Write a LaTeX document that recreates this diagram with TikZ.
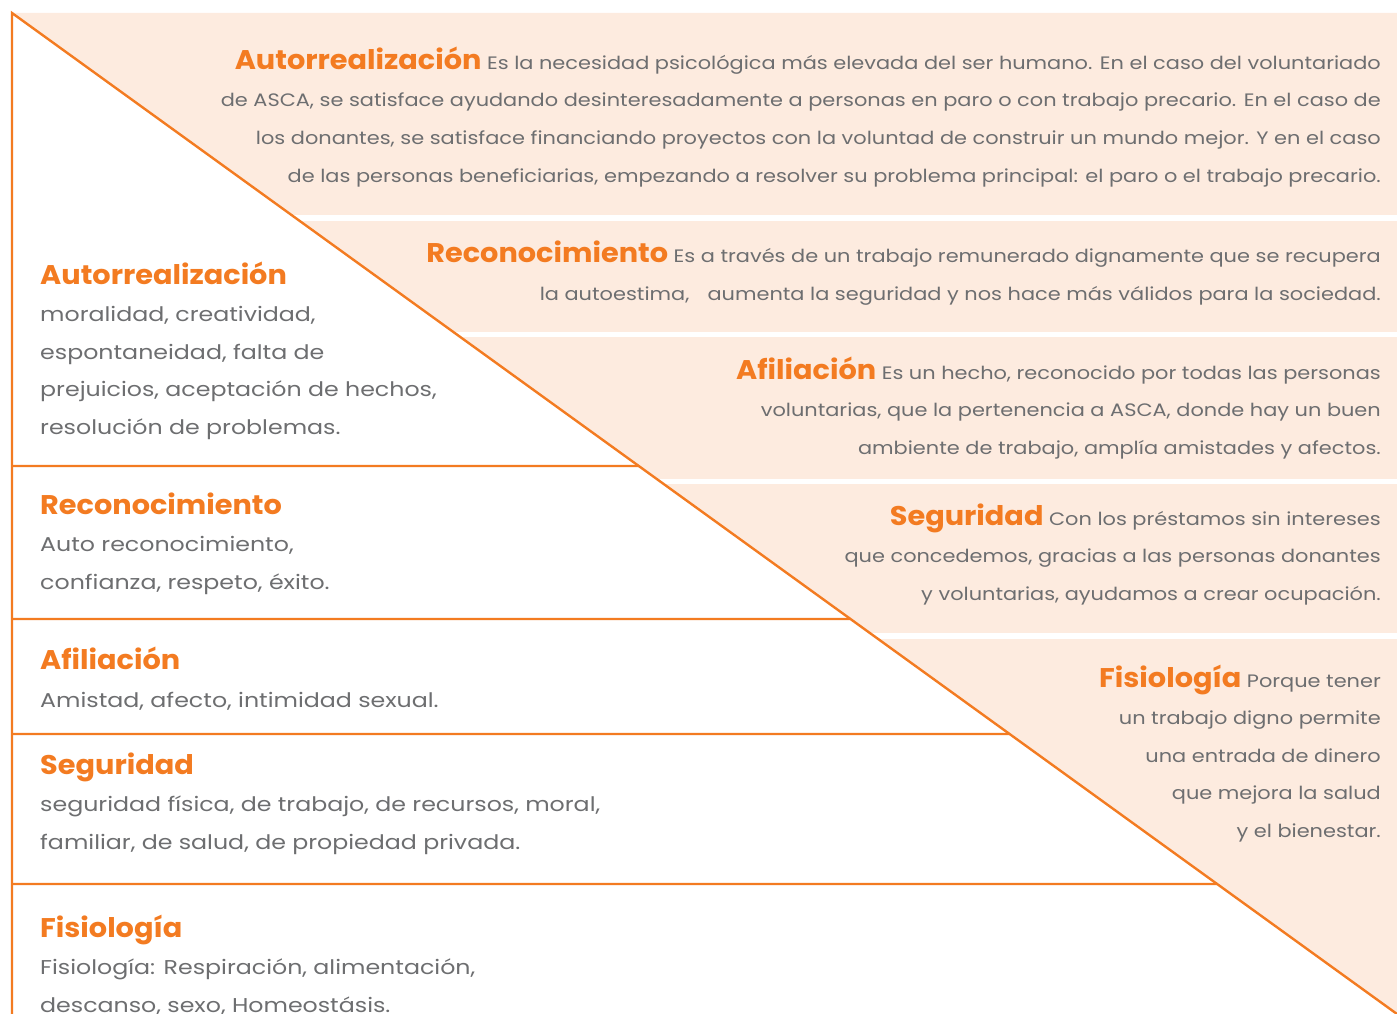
\documentclass[tikz,border=0pt]{standalone}
\usepackage{fontspec}
\setmainfont{Poppins}
\newfontfamily\fcuerpo[FakeStretch=1.16]{Poppins}
\newfontfamily\fizq[FakeStretch=1.185]{Poppins}
\newfontfamily\ftitulo[FakeStretch=1.065]{Poppins}
\usetikzlibrary{calc,positioning}

\definecolor{naranja}{HTML}{F37B21}
\definecolor{melocoton}{HTML}{FDEBDF}
\definecolor{texto}{HTML}{6D6E70}

\newcommand{\tit}[1]{{\color{naranja}\ftitulo\bfseries\fontsize{27}{37.5}\selectfont #1}}

\tikzset{
  linea/.style = {draw=naranja, line width=2.4pt},
  izq/.style = {anchor=base west, align=left, inner sep=0pt, text=texto,
                font=\fizq\fontsize{20}{37.5}\selectfont},
  der/.style = {anchor=base east, align=right, inner sep=0pt, text=texto,
                font=\fcuerpo\fontsize{18}{37.5}\selectfont},
  hueco/.style = {fill=white, draw=none}
}

\begin{document}
\begin{tikzpicture}[x=1pt, y=-1pt]
    \useasboundingbox (0,0) rectangle (1397,1014);

    \coordinate (tl) at (12,13);
    \coordinate (br) at (1397,1014);

    % fondo de las franjas
    \fill[melocoton] (tl) -- (1397,13) -- (br) -- cycle;
    \fill[hueco] (12,215) rectangle (1397,221);
    \fill[hueco] (12,332) rectangle (1397,337);
    \fill[hueco] (12,479) rectangle (1397,484);
    \fill[hueco] (12,633) rectangle (1397,639);

    % piramide
    \draw[linea] (12,1014) -- (tl) -- (br);
    \coordinate (c1) at ($(tl)!{(466-13)/1001}!(br)$);
    \coordinate (c2) at ($(tl)!{(619-13)/1001}!(br)$);
    \coordinate (c3) at ($(tl)!{(734-13)/1001}!(br)$);
    \coordinate (c4) at ($(tl)!{(884-13)/1001}!(br)$);
    \draw[linea] (12,466) -- (c1);
    \draw[linea] (12,619) -- (c2);
    \draw[linea] (12,734) -- (c3);
    \draw[linea] (12,884) -- (c4);

    % textos de la izquierda (anclados en la ultima linea)
    \node[izq] (i1) at (40,434) {\tit{Autorrealización}\\moralidad, creatividad,\\espontaneidad, falta de\\prejuicios, aceptación de hechos,\\resolución de problemas.};
    \node[izq] (i2) at (40,589) {\tit{Reconocimiento}\\Auto reconocimiento,\\confianza, respeto, éxito.};
    \node[izq] (i3) at (40,707) {\tit{Afiliación}\\Amistad, afecto, intimidad sexual.};
    \node[izq] (i4) at (40,849) {\tit{Seguridad}\\seguridad física, de trabajo, de recursos, moral,\\familiar, de salud, de propiedad privada.};
    \node[izq] (i5) at (40,1012) {\tit{Fisiología}\\Fisiología: Respiración, alimentación,\\descanso, sexo, Homeostásis.};

    % textos de la derecha
    \node[der] (d1) at (1381,182) {\tit{Autorrealización} Es la necesidad psicológica más elevada del ser humano. En el caso del voluntariado\\de ASCA, se satisface ayudando desinteresadamente a personas en paro o con trabajo precario. En el caso de\\los donantes, se satisface financiando proyectos con la voluntad de construir un mundo mejor. Y en el caso\\de las personas beneficiarias, empezando a resolver su problema principal: el paro o el trabajo precario.};
    \node[der] (d2) at (1381,300) {\tit{Reconocimiento} Es a través de un trabajo remunerado dignamente que se recupera\\la autoestima,\hspace{0.7em} aumenta la seguridad y nos hace más válidos para la sociedad.};
    \node[der] (d3) at (1381,454) {\tit{Afiliación} Es un hecho, reconocido por todas las personas\\voluntarias, que la pertenencia a ASCA, donde hay un buen\\ambiente de trabajo, amplía amistades y afectos.};
    \node[der] (d4) at (1381,600) {\tit{Seguridad} Con los préstamos sin intereses\\que concedemos, gracias a las personas donantes\\y voluntarias, ayudamos a crear ocupación.};
    \node[der] (d5) at (1381,837) {\tit{Fisiología} Porque tener\\un trabajo digno permite\\una entrada de dinero\\que mejora la salud\\y el bienestar.};
\end{tikzpicture}
\end{document}
